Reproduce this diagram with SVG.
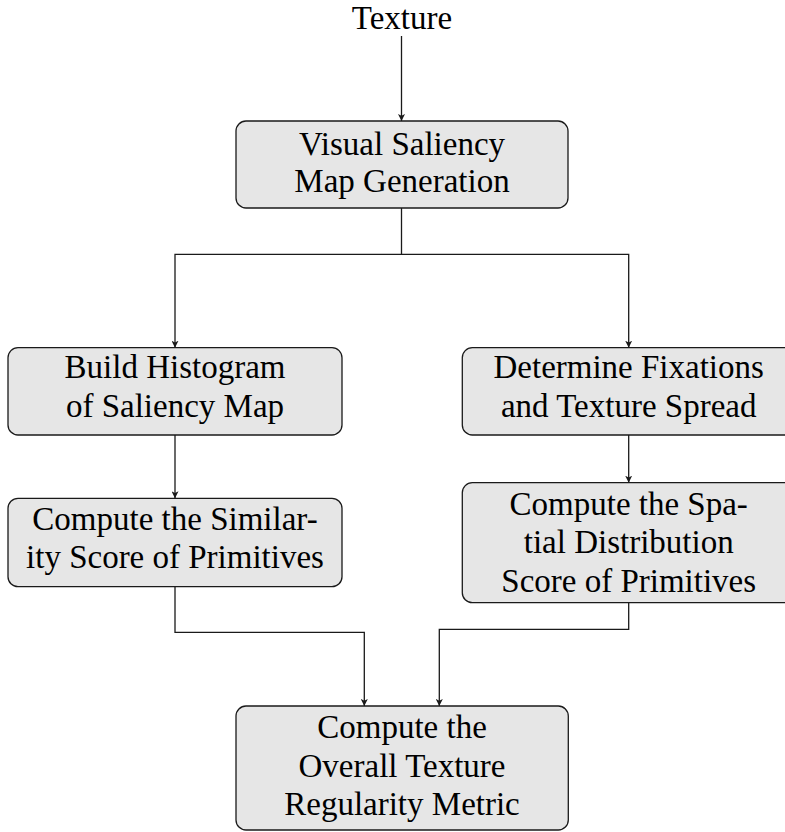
<svg xmlns="http://www.w3.org/2000/svg" width="785" height="832" viewBox="0 0 785 832">
<style>
  .box { fill: #e6e6e6; stroke: #1a1a1a; stroke-width: 1.3; }
  .lbl { font-family: "Liberation Serif", "DejaVu Serif", serif; font-size: 33px; fill: #000; text-anchor: middle; }
  .edge { fill: none; stroke: #1a1a1a; stroke-width: 1.3; marker-end: url(#arr); }
</style>
<defs>
  <marker id="arr" viewBox="0 0 10 10" refX="10" refY="5" markerWidth="7" markerHeight="7" markerUnits="userSpaceOnUse" orient="auto">
    <path d="M0,0 L10,5 L0,10 L2.5,5 Z" fill="#1a1a1a"/>
  </marker>
</defs>
<rect width="785" height="832" fill="#fff"/>
<g id="connectors">
  <path class="edge" d="M401.5,36 V121"/>
  <path class="edge" d="M401.5,208 V254.3 H175 V347.7"/>
  <path class="edge" d="M401.5,254.3 H628.7 V347.7"/>
  <path class="edge" d="M175,435 V498.3"/>
  <path class="edge" d="M628.7,435 V482.7"/>
  <path class="edge" d="M175,586.7 V632.3 H364.3 V706"/>
  <path class="edge" d="M628.7,602.7 V629.3 H439.3 V706"/>
</g>
<g id="texture">
  <text class="lbl" x="402" y="29">Texture</text>
</g>
<g id="saliency">
  <rect class="box" x="236" y="121" width="332" height="87" rx="10"/>
  <text class="lbl" x="402" y="155">Visual Saliency</text>
  <text class="lbl" x="402" y="192">Map Generation</text>
</g>
<g id="histogram">
  <rect class="box" x="8" y="347.7" width="334" height="87.3" rx="10"/>
  <text class="lbl" x="175" y="378">Build Histogram</text>
  <text class="lbl" x="175" y="416.7">of Saliency Map</text>
</g>
<g id="fixations">
  <rect class="box" x="462.3" y="347.7" width="332.8" height="87.3" rx="10"/>
  <text class="lbl" x="628.7" y="378">Determine Fixations</text>
  <text class="lbl" x="628.7" y="416.7">and Texture Spread</text>
</g>
<g id="similarity">
  <rect class="box" x="8" y="498.3" width="334" height="88.4" rx="10"/>
  <text class="lbl" x="175" y="530">Compute the Similar-</text>
  <text class="lbl" x="175" y="568">ity Score of Primitives</text>
</g>
<g id="spatial">
  <rect class="box" x="462.3" y="482.7" width="332.8" height="120" rx="10"/>
  <text class="lbl" x="628.7" y="515">Compute the Spa-</text>
  <text class="lbl" x="628.7" y="553.3">tial Distribution</text>
  <text class="lbl" x="628.7" y="591.7">Score of Primitives</text>
</g>
<g id="overall">
  <rect class="box" x="236" y="706" width="332.3" height="124" rx="10"/>
  <text class="lbl" x="402" y="738.3">Compute the</text>
  <text class="lbl" x="402" y="776.7">Overall Texture</text>
  <text class="lbl" x="402" y="815">Regularity Metric</text>
</g>
</svg>
